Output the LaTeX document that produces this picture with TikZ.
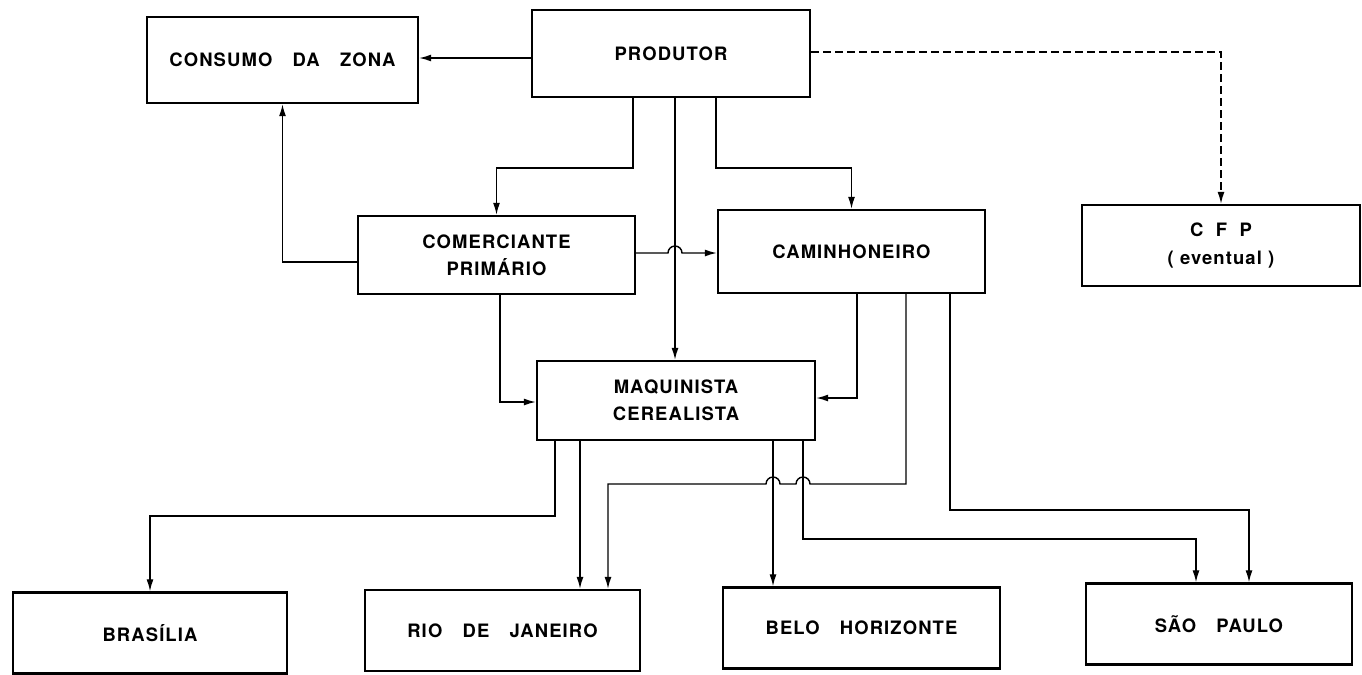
\documentclass[tikz,border=0pt]{standalone}
\usepackage{fontspec}
\setmainfont{TeX Gyre Heros}[LetterSpace=6]
\usetikzlibrary{arrows.meta}
\newcommand{\esp}{\hspace{1.1em}}

\begin{document}
\begin{tikzpicture}[
            x=0.02cm, y=-0.02cm,
            box/.style={rectangle, draw, line width=1.4pt, inner sep=0pt, minimum width=5.5cm, minimum height=1.62cm, align=center, font=\bfseries\fontsize{10.5}{15.5}\selectfont},
            arrow/.style={-{Latex[length=2.4mm,width=1.4mm]}, line width=0.8pt},
            dasharrow/.style={arrow, dash pattern=on 1.6mm off 0.8mm}
        ]
            \useasboundingbox (0,0) rectangle (1362,674);

            % Top boxes
            \node[box, minimum width=5.42cm, minimum height=1.72cm] (cons) at (282.5,60) {CONSUMO\esp DA\esp ZONA};
            \node[box, minimum width=5.56cm, minimum height=1.74cm] (prod) at (671,53.5) {PRODUTOR};
            \node[box, minimum width=5.56cm] (cfp) at (1221,245.5) {C~~F~~P\\( eventual )};

            % Middle boxes
            \node[box, minimum width=5.54cm, minimum height=1.56cm] (com) at (496.5,255) {COMERCIANTE\\PRIMÁRIO};
            \node[box, minimum width=5.34cm, minimum height=1.66cm] (cam) at (851.5,251.5) {CAMINHONEIRO};
            \node[box, minimum width=5.56cm, minimum height=1.58cm] (maq) at (676,400.5) {MAQUINISTA\\CEREALISTA};

            % Destinations
            \node[box, minimum width=5.48cm] (bra) at (150,633) {BRASÍLIA};
            \node[box] (rio) at (502.5,630.5) {RIO\esp DE\esp JANEIRO};
            \node[box, minimum width=5.54cm] (belo) at (861.5,628) {BELO\esp HORIZONTE};
            \node[box, minimum width=5.32cm] (sp) at (1219,624) {SÃO\esp PAULO};

            % From the producer
            \draw[arrow] (prod.west |- 0,58) -- (cons.east |- 0,58);
            \draw[dasharrow] (prod.east |- 0,52) -| (cfp.north);
            \draw[arrow] (633,0 |- prod.south) -- (633,168) -| (com.north);
            \draw[arrow] (675,0 |- prod.south) -- (675,0 |- maq.north);
            \draw[arrow] (716,0 |- prod.south) -- (716,168) -| (cam.north);

            % From the primary trader
            \draw[arrow] (com.west |- 0,262) -| (cons.south);
            \draw[arrow] (com.east |- 0,253) -- (668,253) arc[start angle=180, end angle=0, radius=0.14cm] -- (cam.west |- 0,253);
            \draw[arrow] (500,0 |- com.south) |- (maq.west |- 0,402);

            % From the trucker
            \draw[arrow] (857,0 |- cam.south) |- (maq.east |- 0,398);
            \draw[arrow] (906,0 |- cam.south) -- (906,484) -- (810,484) arc[start angle=0, end angle=180, radius=0.14cm] -- (780,484) arc[start angle=0, end angle=180, radius=0.14cm] -- (608,484) -- (608,0 |- rio.north);
            \draw[arrow] (950,0 |- cam.south) -- (950,510) -| (1249,0 |- sp.north);

            % From the miller
            \draw[arrow] (555,0 |- maq.south) -- (555,516) -| (bra.north);
            \draw[arrow] (580,0 |- maq.south) -- (580,0 |- rio.north);
            \draw[arrow] (773,0 |- maq.south) -- (773,0 |- belo.north);
            \draw[arrow] (803,0 |- maq.south) -- (803,539) -| (1196,0 |- sp.north);
        \end{tikzpicture}
\end{document}
